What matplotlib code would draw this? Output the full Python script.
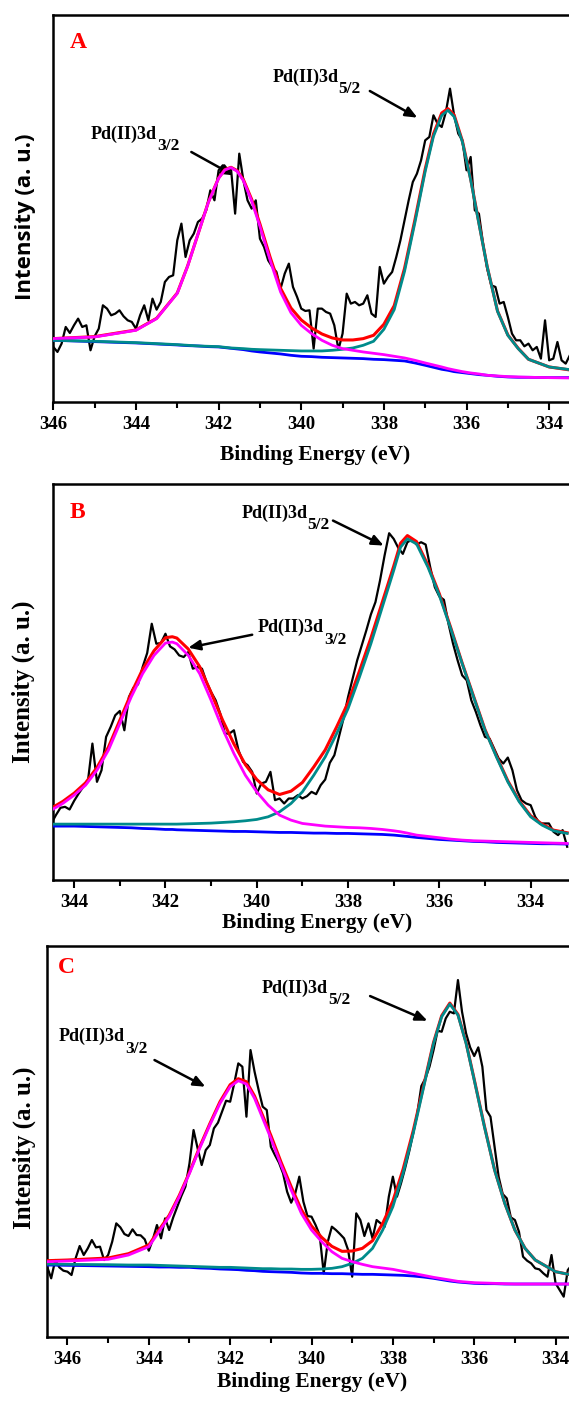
import numpy as np
import matplotlib
matplotlib.use('Agg')
import matplotlib.pyplot as plt
from matplotlib.ticker import MultipleLocator

plt.rcParams['font.family'] = ['Liberation Serif', 'DejaVu Serif']
plt.rcParams['font.weight'] = 'bold'

# ---- panel A ----
a_raw = [165, 150, 175, 225, 207, 230, 250, 225, 230, 155,
         197, 220, 290, 280, 260, 265, 275, 257, 245, 240,
         220, 260, 290, 245, 310, 277, 300, 360, 375, 380,
         485, 535, 435, 485, 505, 540, 550, 575, 635, 605,
         695, 710, 690, 700, 565, 745, 665, 605, 580, 605,
         490, 465, 425, 405, 390, 340, 385, 415, 345, 315,
         280, 273, 275, 160, 280, 280, 270, 265, 230, 157,
         205, 325, 295, 300, 290, 295, 320, 265, 255, 405,
         355, 375, 390, 435, 485, 545, 605, 660, 685, 725,
         785, 795, 860, 835, 825, 870, 940, 860, 805, 785,
         695, 735, 575, 565, 475, 400, 350, 345, 295, 300,
         255, 205, 185, 185, 167, 175, 155, 165, 130, 245,
         125, 130, 180, 125, 115, 140]
a_fit_e = [346, 345, 344, 343.5, 343, 342.75, 342.5, 342.25, 342, 341.85,
           341.7, 341.55, 341.4, 341.2, 341, 340.75, 340.5, 340.25, 340, 339.75,
           339.5, 339.25, 339, 338.75, 338.5, 338.25, 338, 337.75, 337.5, 337.25,
           337, 336.8, 336.6, 336.45, 336.3, 336.1, 335.9, 335.7, 335.5, 335.25,
           335, 334.75, 334.5, 334, 333.5]
a_env = [190, 196, 216, 251, 327, 408, 503, 599, 672, 697,
         704, 694, 667, 608, 534, 433, 341, 282, 246, 222,
         204, 192, 186, 186, 190, 200, 233, 289, 401, 546,
         699, 804, 867, 880, 861, 783, 669, 537, 406, 273,
         201, 161, 128, 105, 96]
a_p32 = [190, 195, 215, 250, 326, 407, 503, 598, 671, 696,
         703, 692, 664, 603, 527, 424, 330, 268, 230, 205,
         185, 170, 160, 155, 150, 146, 142, 137, 132, 125,
         117, 111, 105, 100, 96, 91, 87, 84, 80, 78,
         76, 75, 74, 73, 72]
a_p52 = [185, 182, 178, 175, 172, 170, 168, 167, 166, 164,
         162, 161, 160, 158, 157, 156, 155, 154, 153, 153,
         153, 155, 158, 162, 170, 182, 218, 277, 392, 538,
         692, 797, 860, 875, 856, 780, 667, 535, 406, 272,
         200, 160, 128, 105, 97]
a_bg = [185, 181, 177, 174, 171, 169, 168, 166, 165, 163,
        161, 159, 157, 153, 150, 147, 144, 140, 137, 136,
        134, 133, 132, 131, 130, 128, 127, 125, 123, 117,
        110, 104, 98, 95, 91, 88, 85, 82, 80, 77,
        75, 74, 74, 73, 73]

# ---- panel B ----
b_raw = [170, 195, 217, 220, 212, 238, 260, 280, 295, 410,
         295, 330, 430, 460, 495, 508, 450, 550, 578, 588,
         640, 682, 770, 710, 712, 740, 702, 693, 675, 670,
         685, 635, 640, 635, 595, 565, 540, 500, 440, 440,
         450, 390, 355, 345, 325, 260, 290, 295, 325, 240,
         245, 230, 245, 245, 255, 245, 252, 265, 258, 285,
         302, 352, 375, 430, 485, 550, 605, 660, 705, 750,
         798, 835, 900, 975, 1042, 1025, 998, 980, 1015, 1023,
         1008, 1015, 1008, 940, 880, 852, 842, 770, 710, 660,
         615, 600, 540, 505, 465, 430, 425, 395, 365, 350,
         368, 330, 270, 240, 230, 225, 190, 170, 170, 170,
         145, 135, 150, 100]
b_fit_e = [344.5, 344.25, 344, 343.75, 343.5, 343.25, 343, 342.75, 342.5, 342.25,
           342, 341.85, 341.75, 341.5, 341.25, 341, 340.75, 340.5, 340.25, 340,
           339.75, 339.5, 339.25, 339, 338.75, 338.5, 338.25, 338, 337.75, 337.5,
           337.25, 337, 336.85, 336.7, 336.5, 336.25, 336, 335.75, 335.5, 335.25,
           335, 334.75, 334.5, 334.25, 334, 333.75, 333.5, 333.2]
b_env = [216, 236, 261, 292, 338, 399, 480, 561, 633, 689,
         728, 731, 727, 694, 641, 563, 481, 409, 347, 302,
         271, 257, 267, 293, 340, 391, 460, 533, 628, 727,
         835, 943, 1012, 1035, 1017, 946, 860, 758, 652, 552,
         452, 373, 298, 238, 193, 168, 150, 142]
b_p32 = [210, 230, 255, 285, 330, 390, 470, 550, 620, 675,
         712, 715, 710, 675, 620, 540, 455, 380, 315, 265,
         225, 195, 180, 170, 166, 162, 160, 158, 157, 155,
         152, 148, 145, 141, 135, 131, 127, 123, 120, 118,
         117, 116, 115, 114, 113, 112, 111, 110]
b_p52 = [168, 168, 168, 168, 168, 168, 168, 168, 168, 168,
         168, 168, 168, 169, 170, 171, 173, 175, 178, 182,
         190, 205, 230, 265, 315, 370, 440, 515, 610, 710,
         820, 930, 1000, 1025, 1010, 940, 855, 755, 650, 550,
         450, 370, 295, 235, 190, 165, 148, 140]
b_bg = [162, 162, 162, 161, 160, 159, 158, 157, 155, 154,
        152, 152, 151, 150, 149, 148, 147, 146, 146, 145,
        144, 143, 143, 142, 141, 141, 140, 140, 139, 138,
        137, 135, 133, 131, 128, 125, 122, 120, 118, 116,
        115, 113, 112, 111, 110, 109, 109, 108]

# ---- panel C ----
c_raw = [210, 175, 230, 208, 198, 195, 185, 235, 272, 245,
         265, 290, 268, 270, 230, 245, 285, 340, 328, 308,
         302, 322, 305, 304, 292, 258, 292, 335, 295, 355,
         320, 358, 390, 422, 450, 520, 620, 565, 515, 560,
         575, 625, 642, 675, 708, 705, 760, 820, 810, 660,
         860, 795, 740, 690, 680, 570, 545, 522, 490, 435,
         402, 430, 480, 405, 362, 360, 335, 305, 190, 285,
         330, 320, 308, 295, 260, 180, 370, 350, 302, 340,
         295, 350, 340, 330, 420, 480, 420, 460, 505, 555,
         610, 670, 752, 775, 810, 860, 918, 915, 955, 975,
         970, 1070, 975, 910, 868, 842, 868, 810, 680, 660,
         570, 480, 428, 415, 358, 350, 315, 240, 228, 220,
         205, 202, 190, 180, 245, 160, 140, 120, 200, 215]
c_fit_e = [346.5, 346, 345, 344.5, 344, 343.75, 343.5, 343.25, 343, 342.75,
           342.5, 342.25, 342, 341.8, 341.6, 341.4, 341.2, 341, 340.75, 340.5,
           340.25, 340, 339.75, 339.5, 339.25, 339, 338.75, 338.5, 338.25, 338,
           337.75, 337.5, 337.25, 337, 336.8, 336.6, 336.4, 336.2, 336, 335.75,
           335.5, 335.25, 335, 334.75, 334.5, 334, 333.6]
c_env = [228, 230, 236, 249, 275, 320, 364, 424, 493, 569,
         639, 705, 756, 774, 765, 722, 663, 604, 524, 450,
         381, 332, 298, 271, 256, 257, 265, 288, 340, 407,
         502, 618, 750, 883, 963, 1001, 967, 882, 772, 632,
         501, 401, 320, 265, 230, 195, 185]
c_p32 = [225, 227, 232, 245, 270, 315, 360, 420, 490, 565,
         635, 700, 750, 768, 758, 715, 655, 595, 515, 440,
         370, 320, 285, 255, 235, 225, 217, 210, 206, 202,
         196, 190, 184, 178, 174, 170, 166, 164, 162, 161,
         160, 159, 158, 158, 158, 158, 158]
c_p52 = [218, 217, 216, 215, 215, 214, 213, 212, 211, 210,
         209, 208, 208, 207, 206, 205, 204, 204, 203, 203,
         202, 202, 203, 205, 210, 220, 235, 265, 320, 390,
         490, 610, 745, 880, 960, 998, 965, 880, 770, 630,
         500, 400, 320, 265, 230, 195, 185]
c_bg = [215, 214, 212, 211, 210, 209, 209, 208, 208, 206,
        205, 203, 202, 201, 199, 198, 196, 195, 194, 193,
        191, 190, 190, 189, 189, 188, 187, 187, 186, 185,
        184, 182, 179, 175, 171, 167, 164, 162, 160, 159,
        159, 158, 158, 158, 158, 158, 158]


def label_peak(ax, x, y, sub, tail, head):
    t = ax.text(x, y, 'Pd(II)3d', ha='left', va='center', fontsize=13,
                fontweight='bold')
    ax.annotate(sub, xy=(1, 0), xycoords=t, xytext=(0.3, 3.5),
                textcoords='offset points', ha='left', va='top',
                fontsize=12.5, fontweight='bold')
    ax.annotate('', xy=head, xytext=tail,
                arrowprops=dict(arrowstyle='-|>,head_length=0.7,head_width=0.3',
                                color='k', lw=1.8, shrinkA=0, shrinkB=0))


def panel(ax, e0, e1, raw, fit_e, env, p32, p52, bg, xlim, ytop,
          letter, letter_pos, ylab_x, ylab_y, xlab_xy, ylab_font):
    e_raw = np.linspace(e0, e1, len(raw))
    ax.plot(e_raw, raw, color='black', lw=1.6, zorder=2)
    ax.plot(fit_e, bg, color='#0000ff', lw=2, zorder=3)
    ax.plot(fit_e, env, color='#ff0000', lw=2.2, zorder=4)
    ax.plot(fit_e, p52, color='#008b8b', lw=2, zorder=5)
    ax.plot(fit_e, p32, color='#ff00ff', lw=2, zorder=6)
    ax.set_xlim(*xlim)
    ax.set_ylim(0, ytop)
    ax.set_yticks([])
    ax.xaxis.set_major_locator(MultipleLocator(2))
    ax.xaxis.set_minor_locator(MultipleLocator(1))
    ax.tick_params(axis='x', which='major', direction='out', length=6,
                   width=1.5, labelsize=13.5, pad=4)
    ax.tick_params(axis='x', which='minor', direction='out', length=4.5,
                   width=1.5)
    for s in ['left', 'top', 'bottom']:
        ax.spines[s].set_linewidth(1.8)
    ax.spines['right'].set_visible(False)
    ax.text(letter_pos[0], letter_pos[1], letter, transform=ax.transAxes,
            color='#ff0000', fontsize=17, fontweight='bold',
            ha='center', va='center')
    ax.text(ylab_x, ylab_y, 'Intensity (a. u.)', transform=ax.transAxes,
            rotation=90, ha='center', va='center', fontweight='bold',
            **ylab_font)
    ax.text(xlab_xy[0], xlab_xy[1], 'Binding Energy (eV)',
            transform=ax.transAxes, ha='center', va='center',
            fontsize=15.5, fontweight='bold')


fig = plt.figure(figsize=(5.69, 14.02), dpi=100)

ax1 = fig.add_axes([0.0937, 0.7133, 0.9063, 0.2760])
panel(ax1, 346.0, 333.5, a_raw, a_fit_e, a_env, a_p32, a_p52, a_bg,
      (346.0, 333.52), 1161, 'A', (0.048, 0.928), -0.0549, 0.478,
      (0.507, -0.137), dict(family='Open Sans', fontsize=16))
label_peak(ax1, 340.70, 973, '5/2', (338.34, 933), (337.19, 853))
label_peak(ax1, 345.10, 803, '3/2', (342.66, 750), (341.64, 680))

ax2 = fig.add_axes([0.0926, 0.3723, 0.9074, 0.2825])
panel(ax2, 344.5, 333.2, b_raw, b_fit_e, b_env, b_p32, b_p52, b_bg,
      (344.47, 333.16), 1190, 'B', (0.047, 0.927), -0.0564, 0.5,
      (0.512, -0.109), dict(fontsize=18))
label_peak(ax2, 340.34, 1103, '5/2', (338.33, 1080), (337.22, 1005))
label_peak(ax2, 339.97, 758, '3/2', (340.10, 737), (341.50, 698))

ax3 = fig.add_axes([0.0821, 0.0466, 0.9179, 0.2786])
panel(ax3, 346.5, 333.6, c_raw, c_fit_e, c_env, c_p32, c_p52, c_bg,
      (346.51, 333.67), 1172, 'C', (0.037, 0.944), -0.0421, 0.483,
      (0.508, -0.115), dict(fontsize=18))
label_peak(ax3, 341.23, 1045, '5/2', (338.56, 1022), (337.15, 948))
label_peak(ax3, 346.22, 900, '3/2', (343.86, 830), (342.61, 750))

fig.savefig('out.png', dpi=100)
